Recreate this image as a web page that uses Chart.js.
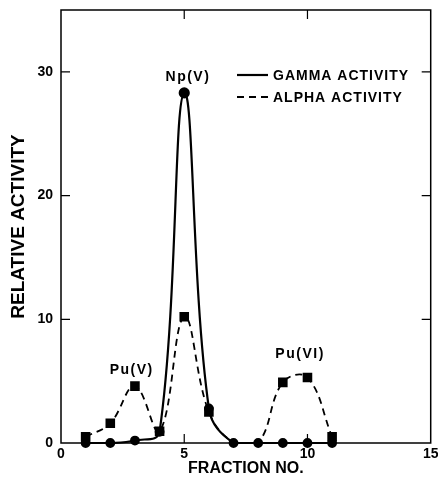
<!DOCTYPE html>
<html>
<head>
<meta charset="utf-8">
<script src="https://cdn.jsdelivr.net/npm/chart.js@4"></script>
<style>
html,body{margin:0;padding:0;background:#fff;}
#wrap{width:438px;height:483px;position:relative;}
</style>
</head>
<body>
<div id="wrap"><canvas id="c" width="438" height="483"></canvas></div>
<script>
// ---- data ----
const fractions = [1, 2, 3, 4, 5, 6, 7, 8, 9, 10, 11];
const gammaActivity = [0, 0, 0.2, 0.9, 28.3, 2.8, 0, 0, 0, 0, 0];
const alphaActivity = [0.5, 1.6, 4.6, 0.95, 10.2, 2.5, 0.05, 0, 4.9, 5.3, 0.5];
const alphaMarkerShown = [1, 1, 1, 1, 1, 1, 0, 0, 1, 1, 1];
const xTicks = [0, 5, 10, 15];
const yTicks = [0, 10, 20, 30];
const peakLabels = ['Np(V)', 'Pu(V)', 'Pu(VI)'];
const peakLabelX = [5.15, 2.87, 9.7];
const peakLabelY = [29.6, 5.85, 7.15];
const legendLabels = ['GAMMA ACTIVITY', 'ALPHA ACTIVITY'];

const FONT = "'Liberation Sans', Arial, sans-serif";

const innerTicks = {
  id: 'innerTicks',
  afterDatasetsDraw(chart) {
    const {ctx, chartArea: a, scales: {x, y}} = chart;
    ctx.save();
    ctx.strokeStyle = '#000';
    ctx.lineWidth = 1.2;
    ctx.beginPath();
    yTicks.forEach(v => {
      if (v === 0) return;
      const py = y.getPixelForValue(v);
      ctx.moveTo(a.left, py); ctx.lineTo(a.left + 9, py);
      ctx.moveTo(a.right, py); ctx.lineTo(a.right - 9, py);
    });
    xTicks.forEach(v => {
      if (v === 0 || v === 15) return;
      const px = x.getPixelForValue(v);
      ctx.moveTo(px, a.bottom); ctx.lineTo(px, a.bottom - 9);
      ctx.moveTo(px, a.top); ctx.lineTo(px, a.top + 9);
    });
    ctx.stroke();
    // frame
    ctx.lineWidth = 1.5;
    ctx.strokeRect(a.left, a.top, a.right - a.left, a.bottom - a.top);

    // peak labels
    ctx.fillStyle = '#000';
    ctx.font = 'bold 14px ' + FONT;
    ctx.letterSpacing = '1.5px';
    ctx.textAlign = 'center';
    ctx.textBaseline = 'middle';
    peakLabels.forEach((t, i) => {
      ctx.fillText(t, x.getPixelForValue(peakLabelX[i]), y.getPixelForValue(peakLabelY[i]));
    });

    // legend
    ctx.font = 'bold 14px ' + FONT;
    ctx.letterSpacing = '1px';
    ctx.textAlign = 'left';
    const lx0 = 237, lx1 = 268;
    const ly = [75, 97];
    chart.data.datasets.forEach((ds, i) => {
      ctx.beginPath();
      ctx.setLineDash(ds.borderDash || []);
      ctx.lineWidth = ds.borderWidth;
      ctx.moveTo(lx0, ly[i]); ctx.lineTo(lx1, ly[i]);
      ctx.stroke();
      ctx.setLineDash([]);
      ctx.fillText(legendLabels[i], 273, ly[i] + 1);
    });
    ctx.restore();
  }
};

new Chart(document.getElementById('c'), {
  type: 'line',
  data: {
    datasets: [
      {
        label: legendLabels[0],
        data: fractions.map((f, i) => ({x: f, y: gammaActivity[i]})),
        borderColor: '#000', backgroundColor: '#000',
        borderWidth: 2.2,
        tension: 0.4,
        clip: false,
        pointStyle: 'circle',
        pointRadius: fractions.map((f, i) => i === 4 ? 4.5 : 3.8),
        order: 1
      },
      {
        label: legendLabels[1],
        data: fractions.map((f, i) => ({x: f, y: alphaActivity[i]})),
        borderColor: '#000', backgroundColor: '#000',
        borderWidth: 1.8,
        borderDash: [7, 5],
        tension: 0.4,
        clip: false,
        pointStyle: 'rect',
        pointRadius: alphaMarkerShown.map(s => s ? 5.5 : 0),
        order: 2
      }
    ]
  },
  options: {
    responsive: false,
    animation: false,
    layout: {padding: {top: 10, right: 6, left: 0, bottom: 0}},
    plugins: {legend: {display: false}, tooltip: {enabled: false}},
    scales: {
      x: {
        type: 'linear', min: 0, max: 15,
        afterBuildTicks(s) { s.ticks = xTicks.map(v => ({value: v})); },
        afterFit(s) { s.height = 40; s.paddingLeft = 0; s.paddingRight = 0; },
        grid: {display: false, drawTicks: false},
        border: {display: false},
        ticks: {color: '#000', padding: 3, maxRotation: 0, font: {family: FONT, size: 14, weight: 'bold'}},
        title: {display: true, text: 'FRACTION NO.', color: '#000', padding: {top: 0, bottom: 5}, font: {family: FONT, size: 16, weight: 'bold'}}
      },
      y: {
        type: 'linear', min: 0, max: 35,
        afterBuildTicks(s) { s.ticks = yTicks.map(v => ({value: v})); },
        afterFit(s) { s.width = 61; s.paddingTop = 0; s.paddingBottom = 0; },
        grid: {display: false, drawTicks: false},
        border: {display: false},
        ticks: {color: '#000', padding: 8, font: {family: FONT, size: 14, weight: 'bold'}},
        title: {display: true, text: 'RELATIVE ACTIVITY', color: '#000', padding: {top: 7, bottom: 0}, font: {family: FONT, size: 19, weight: 'bold'}}
      }
    }
  },
  plugins: [innerTicks]
});
</script>
</body>
</html>
